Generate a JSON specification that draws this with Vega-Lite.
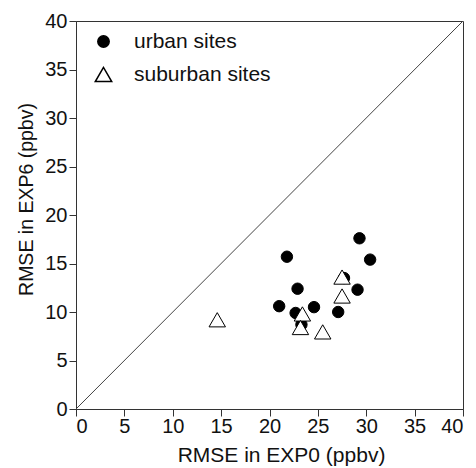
{
  "$schema": "https://vega.github.io/schema/vega-lite/v6.json",
  "width": 387,
  "height": 388,
  "autosize": {"type": "none"},
  "padding": {"left": 76, "top": 21, "right": 13, "bottom": 59},
  "background": "white",
  "config": {
    "font": "Liberation Sans",
    "view": {"stroke": "#333333", "strokeWidth": 1},
    "axis": {
      "grid": false,
      "domainColor": "#333333",
      "tickColor": "#333333",
      "labelColor": "#111111",
      "titleColor": "#111111",
      "labelFont": "Liberation Sans",
      "titleFont": "Liberation Sans",
      "labelFontSize": 20,
      "titleFontSize": 21,
      "titleFontWeight": "normal"
    },
    "legend": {
      "labelFont": "Liberation Sans",
      "labelFontSize": 21,
      "labelColor": "#111111"
    }
  },
  "layer": [
    {
      "data": {"values": [{"a": 0, "b": 0}, {"a": 40, "b": 40}]},
      "mark": {"type": "line", "color": "#444444", "strokeWidth": 1},
      "encoding": {
        "x": {
          "field": "a", "type": "quantitative",
          "scale": {"domain": [0, 40], "nice": false, "zero": false},
          "axis": {
            "values": [0, 2.5, 5, 7.5, 10, 12.5, 15, 17.5, 20, 22.5, 25, 27.5, 30, 32.5, 35, 37.5, 40],
            "labelExpr": "datum.value % 5 === 0 ? datum.label : ''",
            "tickSize": {"condition": {"test": "datum.value % 5 !== 0", "value": 4}, "value": 7},
            "labelPadding": 0,
            "title": "RMSE in EXP0 (ppbv)",
            "titlePadding": 8,
            "titleX": 205
          }
        },
        "y": {
          "field": "b", "type": "quantitative",
          "scale": {"domain": [0, 40], "nice": false, "zero": false},
          "axis": {
            "values": [0, 2.5, 5, 7.5, 10, 12.5, 15, 17.5, 20, 22.5, 25, 27.5, 30, 32.5, 35, 37.5, 40],
            "labelExpr": "datum.value % 5 === 0 ? datum.label : ''",
            "tickSize": {"condition": {"test": "datum.value % 5 !== 0", "value": 4}, "value": 7},
            "labelPadding": 2,
            "title": "RMSE in EXP6 (ppbv)",
            "titleFontSize": 19.5,
            "titlePadding": 8,
            "titleY": 178
          }
        }
      }
    },
    {
      "data": {
        "values": [
          {"exp0": 21.8, "exp6": 15.7, "site": "urban sites"},
          {"exp0": 29.3, "exp6": 17.6, "site": "urban sites"},
          {"exp0": 30.4, "exp6": 15.4, "site": "urban sites"},
          {"exp0": 22.9, "exp6": 12.4, "site": "urban sites"},
          {"exp0": 27.7, "exp6": 13.5, "site": "urban sites"},
          {"exp0": 29.1, "exp6": 12.3, "site": "urban sites"},
          {"exp0": 21.0, "exp6": 10.6, "site": "urban sites"},
          {"exp0": 24.6, "exp6": 10.5, "site": "urban sites"},
          {"exp0": 27.1, "exp6": 10.0, "site": "urban sites"},
          {"exp0": 22.7, "exp6": 9.9, "site": "urban sites"},
          {"exp0": 23.3, "exp6": 8.7, "site": "urban sites"},
          {"exp0": 14.6, "exp6": 9.2, "site": "suburban sites"},
          {"exp0": 27.5, "exp6": 13.6, "site": "suburban sites"},
          {"exp0": 27.5, "exp6": 11.65, "site": "suburban sites"},
          {"exp0": 23.4, "exp6": 9.8, "site": "suburban sites"},
          {"exp0": 23.2, "exp6": 8.4, "site": "suburban sites"},
          {"exp0": 25.5, "exp6": 7.95, "site": "suburban sites"}
        ]
      },
      "mark": {"type": "point", "opacity": 1, "stroke": "black", "strokeWidth": 1},
      "encoding": {
        "x": {"field": "exp0", "type": "quantitative"},
        "y": {"field": "exp6", "type": "quantitative"},
        "shape": {
          "field": "site", "type": "nominal",
          "scale": {"domain": ["urban sites", "suburban sites"], "range": ["circle", "triangle-up"]},
          "legend": {
            "orient": "none", "legendX": 17, "legendY": 10, "title": null,
            "labelOffset": 20, "rowPadding": 11,
            "encode": {"symbols": {"update": {"stroke": {"value": "black"}, "strokeWidth": {"value": 1}}}}
          }
        },
        "fill": {
          "field": "site", "type": "nominal",
          "scale": {"domain": ["urban sites", "suburban sites"], "range": ["black", "white"]},
          "legend": {
            "orient": "none", "legendX": 17, "legendY": 10, "title": null,
            "labelOffset": 20, "rowPadding": 11,
            "encode": {"symbols": {"update": {"stroke": {"value": "black"}, "strokeWidth": {"value": 1}}}}
          }
        },
        "size": {
          "field": "site", "type": "nominal",
          "scale": {"domain": ["urban sites", "suburban sites"], "range": [130, 270]},
          "legend": {
            "orient": "none", "legendX": 17, "legendY": 10, "title": null,
            "labelOffset": 20, "rowPadding": 11,
            "encode": {"symbols": {"update": {"stroke": {"value": "black"}, "strokeWidth": {"value": 1}}}}
          }
        }
      }
    }
  ]
}
